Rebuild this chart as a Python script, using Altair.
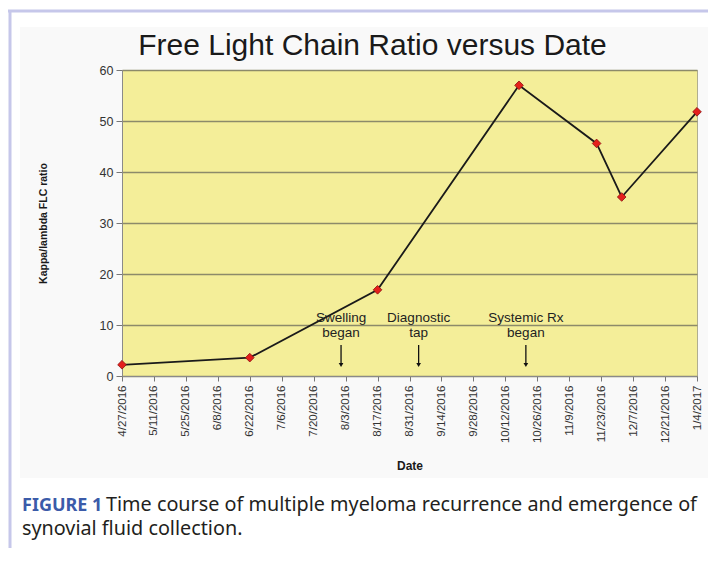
import altair as alt
import pandas as pd

# ---------------- data ----------------
dates = ["2016/04/27", "2016/06/22", "2016/08/17", "2016/10/18",
         "2016/11/21", "2016/12/02", "2017/01/04"]
ratios = [2.2, 3.6, 16.9, 57.0, 45.6, 35.1, 51.8]

event_dates = ["2016/08/01", "2016/09/04", "2016/10/21"]
event_labels = ["Swelling\nbegan", "Diagnostic\ntap", "Systemic Rx\nbegan"]

tick_labels = ["4/27/2016", "5/11/2016", "5/25/2016", "6/8/2016", "6/22/2016",
               "7/6/2016", "7/20/2016", "8/3/2016", "8/17/2016", "8/31/2016",
               "9/14/2016", "9/28/2016", "10/12/2016", "10/26/2016", "11/9/2016",
               "11/23/2016", "12/7/2016", "12/21/2016", "1/4/2017"]
y_ticks = [0, 10, 20, 30, 40, 50, 60]

title_text = "Free Light Chain Ratio versus Date"
caption_label = "FIGURE 1"
caption_line1 = "Time course of multiple myeloma recurrence and emergence of"
caption_line2 = "synovial fluid collection."


def to_dt(s):
    m, d, y = (int(p) for p in s.split("/"))
    return alt.DateTime(year=y, month=m, date=d)


tick_values = [to_dt(s) for s in tick_labels]

df = pd.DataFrame({"date": dates, "ratio": ratios})
ev = pd.DataFrame({"date": event_dates, "label": event_labels})
dummy = pd.DataFrame({"k": [0]})

W, H = 575, 306
PAD = {"left": 114, "top": 62, "right": 11, "bottom": 172}

x_enc = alt.X(
    "date:T",
    scale=alt.Scale(domain=[tick_values[0], tick_values[-1]], nice=False),
    axis=alt.Axis(values=tick_values, tickCount=len(tick_values) + 5,
                  format="%-m/%-d/%Y", labelAngle=270,
                  labelFontSize=11.5, labelColor="#333333", tickSize=5,
                  tickColor="#777777", domainColor="#8a8a8a", labelPadding=4,
                  labelOverlap=False, labelFlush=False, labelBound=False,
                  grid=False, title="Date", titleFontSize=12,
                  titleFontWeight="bold", titleColor="#1a1a1a", titlePadding=18),
)
y_enc = alt.Y(
    "ratio:Q",
    scale=alt.Scale(domain=[0, 60], nice=False),
    axis=alt.Axis(values=y_ticks, labelFontSize=12.5, labelColor="#333333",
                  tickSize=6, tickColor="#777777", domainColor="#8a8a8a",
                  labelPadding=3, gridColor="#8c8a6a", gridWidth=1.3,
                  labelFlush=False,
                  title="Kappa/lambda FLC ratio", titleFontSize=10.5,
                  titleFontWeight="bold", titleColor="#1a1a1a", titlePadding=51),
)

# page decorations (outside the plot)
white_left = alt.Chart(dummy).mark_rect(color="white").encode(
    x=alt.value(-114), x2=alt.value(-102), y=alt.value(-62), y2=alt.value(478))
white_top = alt.Chart(dummy).mark_rect(color="white").encode(
    x=alt.value(-114), x2=alt.value(586), y=alt.value(-62), y2=alt.value(-43))
white_bottom = alt.Chart(dummy).mark_rect(color="white").encode(
    x=alt.value(-114), x2=alt.value(586), y=alt.value(408), y2=alt.value(478))
border_top = alt.Chart(dummy).mark_rule(color="#c6c7ea", strokeWidth=3).encode(
    x=alt.value(-114), x2=alt.value(586), y=alt.value(-59))
border_left = alt.Chart(dummy).mark_rule(color="#c6c7ea", strokeWidth=3).encode(
    x=alt.value(-112), y=alt.value(-60), y2=alt.value(478))

line = alt.Chart(df).mark_line(color="#1a1a1a", strokeWidth=1.8).encode(
    x=x_enc, y=y_enc)
points = alt.Chart(df).mark_point(
    shape="diamond", filled=True, size=75, color="#e5201c",
    stroke="#8b1010", strokeWidth=0.8, opacity=1).encode(x="date:T", y="ratio:Q")

arrows = alt.Chart(ev).mark_rule(color="#111111", strokeWidth=1.3).encode(
    x="date:T", y=alt.value(275), y2=alt.value(294))
heads = alt.Chart(ev).mark_point(
    shape="triangle-down", filled=True, size=22, color="#111111", opacity=1).encode(
    x="date:T", y=alt.value(295))
labels = alt.Chart(ev).mark_text(
    fontSize=13.5, lineBreak="\n", lineHeight=14.5, align="center",
    baseline="alphabetic", color="#222222", font="Liberation Sans").encode(
    x="date:T", y=alt.value(252), text="label:N")

title = alt.Chart(dummy).mark_text(
    fontSize=30, align="center", baseline="alphabetic", color="#1a1a1a",
    font="Liberation Sans").encode(
    x=alt.value(250.5), y=alt.value(-15), text=alt.value(title_text))

cap_label = alt.Chart(dummy).mark_text(
    fontSize=18, fontWeight="bold", align="left", baseline="alphabetic",
    color="#3b5ba9", font="Noto Sans").encode(
    x=alt.value(-100), y=alt.value(441), text=alt.value(caption_label))
cap1 = alt.Chart(dummy).mark_text(
    fontSize=19.8, align="left", baseline="alphabetic", color="#231f20",
    font="Noto Sans").encode(
    x=alt.value(-16), y=alt.value(441), text=alt.value(caption_line1))
cap2 = alt.Chart(dummy).mark_text(
    fontSize=19.8, align="left", baseline="alphabetic", color="#231f20",
    font="Noto Sans").encode(
    x=alt.value(-100), y=alt.value(465), text=alt.value(caption_line2))

chart = alt.layer(
    white_left, white_top, white_bottom, border_top, border_left,
    line, points, arrows, heads, labels, title, cap_label, cap1, cap2,
).properties(
    width=W, height=H, padding=PAD,
    autosize=alt.AutoSizeParams(type="none"),
    background="#f9f9f9",
).configure(font="Liberation Sans").configure_view(
    fill="#f4ee99", stroke="#b0ae90", strokeWidth=1)

chart.save("out.html", embed_options={"renderer": "svg", "actions": False})
